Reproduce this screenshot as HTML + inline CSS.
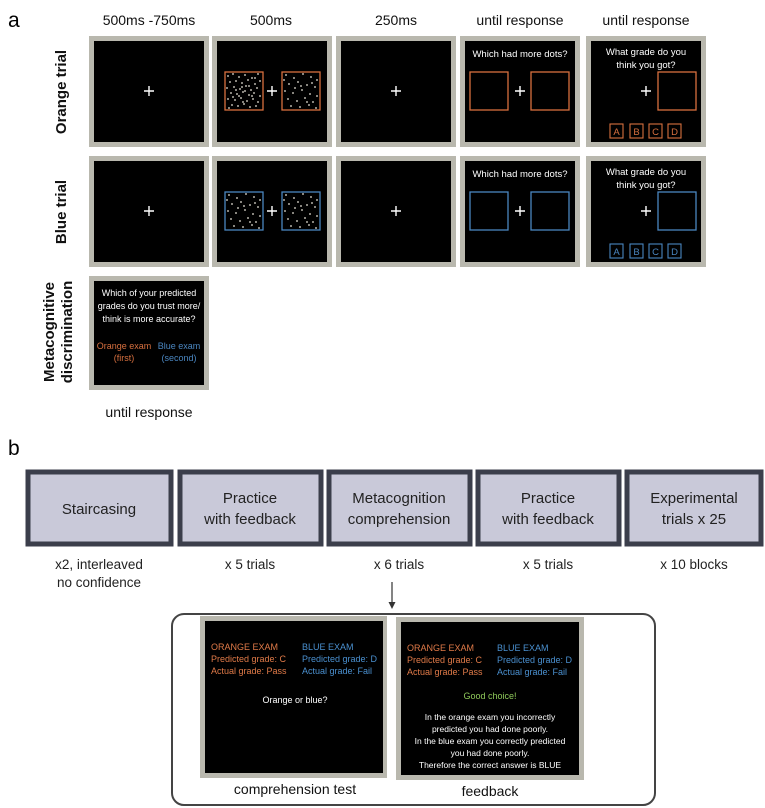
<!DOCTYPE html>
<html><head><meta charset="utf-8"><style>
html,body{margin:0;padding:0;background:#fff;}
svg{display:block;font-family:"Liberation Sans",sans-serif;}
</style></head><body>
<svg width="765" height="808" viewBox="0 0 765 808" xmlns="http://www.w3.org/2000/svg">
<defs>
<g id="dl" fill="#e8e4d8">
<circle cx="3" cy="4" r="0.9"/><circle cx="8" cy="2" r="0.9"/><circle cx="14" cy="5" r="0.9"/><circle cx="20" cy="3" r="0.9"/><circle cx="27" cy="6" r="0.9"/><circle cx="33" cy="2" r="0.9"/><circle cx="5" cy="10" r="0.9"/><circle cx="11" cy="9" r="0.9"/><circle cx="17" cy="11" r="0.9"/><circle cx="23" cy="8" r="0.9"/><circle cx="30" cy="12" r="0.9"/><circle cx="35" cy="9" r="0.9"/><circle cx="2" cy="16" r="0.9"/><circle cx="9" cy="15" r="0.9"/><circle cx="15" cy="17" r="0.9"/><circle cx="21" cy="14" r="0.9"/><circle cx="26" cy="18" r="0.9"/><circle cx="32" cy="16" r="0.9"/><circle cx="6" cy="21" r="0.9"/><circle cx="12" cy="22" r="0.9"/><circle cx="18" cy="20" r="0.9"/><circle cx="24" cy="23" r="0.9"/><circle cx="29" cy="21" r="0.9"/><circle cx="35" cy="24" r="0.9"/><circle cx="3" cy="27" r="0.9"/><circle cx="10" cy="28" r="0.9"/><circle cx="16" cy="26" r="0.9"/><circle cx="22" cy="29" r="0.9"/><circle cx="28" cy="27" r="0.9"/><circle cx="33" cy="30" r="0.9"/><circle cx="7" cy="33" r="0.9"/><circle cx="13" cy="34" r="0.9"/><circle cx="19" cy="32" r="0.9"/><circle cx="25" cy="35" r="0.9"/><circle cx="31" cy="34" r="0.9"/><circle cx="4" cy="36" r="0.9"/><circle cx="17" cy="15" r="0.9"/><circle cx="20" cy="19" r="0.9"/><circle cx="14" cy="24" r="0.9"/><circle cx="24" cy="14" r="0.9"/><circle cx="11" cy="18" r="0.9"/><circle cx="27" cy="24" r="0.9"/><circle cx="18" cy="30" r="0.9"/><circle cx="8" cy="25" r="0.9"/><circle cx="30" cy="6" r="0.9"/>
</g>
<g id="dr" fill="#e8e4d8">
<circle cx="4" cy="3" r="0.9"/><circle cx="12" cy="6" r="0.9"/><circle cx="21" cy="2" r="0.9"/><circle cx="29" cy="5" r="0.9"/><circle cx="35" cy="8" r="0.9"/><circle cx="7" cy="12" r="0.9"/><circle cx="16" cy="10" r="0.9"/><circle cx="25" cy="13" r="0.9"/><circle cx="33" cy="15" r="0.9"/><circle cx="3" cy="19" r="0.9"/><circle cx="11" cy="21" r="0.9"/><circle cx="20" cy="18" r="0.9"/><circle cx="28" cy="22" r="0.9"/><circle cx="35" cy="24" r="0.9"/><circle cx="6" cy="27" r="0.9"/><circle cx="15" cy="29" r="0.9"/><circle cx="23" cy="26" r="0.9"/><circle cx="31" cy="30" r="0.9"/><circle cx="9" cy="34" r="0.9"/><circle cx="18" cy="35" r="0.9"/><circle cx="27" cy="33" r="0.9"/><circle cx="34" cy="36" r="0.9"/><circle cx="2" cy="8" r="0.9"/><circle cx="19" cy="14" r="0.9"/><circle cx="25" cy="30" r="0.9"/><circle cx="13" cy="16" r="0.9"/><circle cx="30" cy="11" r="0.9"/>
</g>
<g id="plus"><path d="M-5 0H5M0 -5V5" stroke="#fff" stroke-width="1.4"/></g>
</defs>

<text x="8" y="27" font-size="21">a</text>
<g font-size="14" text-anchor="middle" fill="#111">
<text x="149" y="25">500ms -750ms</text>
<text x="271" y="25">500ms</text>
<text x="396" y="25">250ms</text>
<text x="520" y="25">until response</text>
<text x="646" y="25">until response</text>
</g>

<g font-size="15" font-weight="bold" text-anchor="middle" fill="#111">
<text transform="translate(66,92) rotate(-90)">Orange trial</text>
<text transform="translate(66,212) rotate(-90)">Blue trial</text>
<text transform="translate(54,332) rotate(-90)">Metacognitive</text>
<text transform="translate(72,332) rotate(-90)">discrimination</text>
</g>

<g fill="#b9b8ae">
<rect x="89" y="36" width="120" height="111"/><rect x="212" y="36" width="120" height="111"/><rect x="336" y="36" width="120" height="111"/><rect x="460" y="36" width="120" height="111"/><rect x="586" y="36" width="120" height="111"/>
<rect x="89" y="156" width="120" height="111"/><rect x="212" y="156" width="120" height="111"/><rect x="336" y="156" width="120" height="111"/><rect x="460" y="156" width="120" height="111"/><rect x="586" y="156" width="120" height="111"/>
<rect x="89" y="276" width="120" height="114"/>
</g>
<g fill="#000">
<rect x="94" y="41" width="110" height="101"/><rect x="217" y="41" width="110" height="101"/><rect x="341" y="41" width="110" height="101"/><rect x="465" y="41" width="110" height="101"/><rect x="591" y="41" width="110" height="101"/>
<rect x="94" y="161" width="110" height="101"/><rect x="217" y="161" width="110" height="101"/><rect x="341" y="161" width="110" height="101"/><rect x="465" y="161" width="110" height="101"/><rect x="591" y="161" width="110" height="101"/>
<rect x="94" y="281" width="110" height="104"/>
</g>

<use href="#plus" x="149" y="91"/>
<rect x="225" y="72" width="38" height="38" fill="none" stroke="#d8703f" stroke-width="1.3"/>
<rect x="282" y="72" width="38" height="38" fill="none" stroke="#d8703f" stroke-width="1.3"/>
<use href="#dl" x="225" y="72"/><use href="#dr" x="282" y="72"/>
<use href="#plus" x="272" y="91"/>
<use href="#plus" x="396" y="91"/>
<text x="520" y="57" font-size="9.5" fill="#fff" text-anchor="middle">Which had more dots?</text>
<rect x="470" y="72" width="38" height="38" fill="none" stroke="#d8703f" stroke-width="1.3"/>
<rect x="531" y="72" width="38" height="38" fill="none" stroke="#d8703f" stroke-width="1.3"/>
<use href="#plus" x="520" y="91"/>
<text x="646" y="55" font-size="9.5" fill="#fff" text-anchor="middle">What grade do you</text>
<text x="646" y="68" font-size="9.5" fill="#fff" text-anchor="middle">think you got?</text>
<rect x="658" y="72" width="38" height="38" fill="none" stroke="#d8703f" stroke-width="1.3"/>
<use href="#plus" x="646" y="91"/>
<g fill="none" stroke="#d8703f" stroke-width="1.1"><rect x="610" y="124" width="13" height="14"/><rect x="630" y="124" width="13" height="14"/><rect x="649" y="124" width="13" height="14"/><rect x="668" y="124" width="13" height="14"/></g>
<g fill="#d8703f" font-size="9.5" text-anchor="middle"><text x="616.5" y="135">A</text><text x="636.5" y="135">B</text><text x="655.5" y="135">C</text><text x="674.5" y="135">D</text></g>

<use href="#plus" x="149" y="211"/>
<rect x="225" y="192" width="38" height="38" fill="none" stroke="#4a86c0" stroke-width="1.3"/>
<rect x="282" y="192" width="38" height="38" fill="none" stroke="#4a86c0" stroke-width="1.3"/>
<use href="#dr" x="225" y="192"/><use href="#dr" x="282" y="192"/>
<use href="#plus" x="272" y="211"/>
<use href="#plus" x="396" y="211"/>
<text x="520" y="177" font-size="9.5" fill="#fff" text-anchor="middle">Which had more dots?</text>
<rect x="470" y="192" width="38" height="38" fill="none" stroke="#4a86c0" stroke-width="1.3"/>
<rect x="531" y="192" width="38" height="38" fill="none" stroke="#4a86c0" stroke-width="1.3"/>
<use href="#plus" x="520" y="211"/>
<text x="646" y="175" font-size="9.5" fill="#fff" text-anchor="middle">What grade do you</text>
<text x="646" y="188" font-size="9.5" fill="#fff" text-anchor="middle">think you got?</text>
<rect x="658" y="192" width="38" height="38" fill="none" stroke="#4a86c0" stroke-width="1.3"/>
<use href="#plus" x="646" y="211"/>
<g fill="none" stroke="#4a86c0" stroke-width="1.1"><rect x="610" y="244" width="13" height="14"/><rect x="630" y="244" width="13" height="14"/><rect x="649" y="244" width="13" height="14"/><rect x="668" y="244" width="13" height="14"/></g>
<g fill="#4a86c0" font-size="9.5" text-anchor="middle"><text x="616.5" y="255">A</text><text x="636.5" y="255">B</text><text x="655.5" y="255">C</text><text x="674.5" y="255">D</text></g>

<g font-size="9" fill="#fff" text-anchor="middle">
<text x="149" y="296">Which of your predicted</text>
<text x="149" y="309">grades do you trust more/</text>
<text x="149" y="322">think is more accurate?</text>
</g>
<g font-size="9" fill="#d8703f" text-anchor="middle"><text x="124" y="349">Orange exam</text><text x="124" y="361">(first)</text></g>
<g font-size="9" fill="#4a86c0" text-anchor="middle"><text x="179" y="349">Blue exam</text><text x="179" y="361">(second)</text></g>
<text x="149" y="417" font-size="14" text-anchor="middle" fill="#111">until response</text>

<text x="8" y="455" font-size="21">b</text>
<g fill="#c9c9d9" stroke="#3b3e4b" stroke-width="5">
<rect x="28" y="472" width="143" height="72"/>
<rect x="180" y="472" width="141" height="72"/>
<rect x="329" y="472" width="141" height="72"/>
<rect x="478" y="472" width="141" height="72"/>
<rect x="627" y="472" width="134" height="72"/>
</g>
<g font-size="15" text-anchor="middle" fill="#222">
<text x="99" y="514">Staircasing</text>
<text x="250" y="503">Practice</text><text x="250" y="524">with feedback</text>
<text x="399" y="503">Metacognition</text><text x="399" y="524">comprehension</text>
<text x="548" y="503">Practice</text><text x="548" y="524">with feedback</text>
<text x="694" y="503">Experimental</text><text x="694" y="524">trials x 25</text>
</g>
<g font-size="13.5" text-anchor="middle" fill="#222">
<text x="99" y="569">x2, interleaved</text><text x="99" y="587">no confidence</text>
<text x="250" y="569">x 5 trials</text>
<text x="399" y="569">x 6 trials</text>
<text x="548" y="569">x 5 trials</text>
<text x="694" y="569">x 10 blocks</text>
</g>
<path d="M392 582V604" stroke="#333" stroke-width="1.2"/>
<path d="M388.5 602L392 609L395.5 602Z" fill="#333"/>
<rect x="172" y="614" width="483" height="191" rx="12" fill="none" stroke="#444" stroke-width="2"/>

<rect x="200" y="616" width="187" height="162" fill="#b9b8ae"/>
<rect x="205" y="621" width="178" height="152" fill="#000"/>
<rect x="396" y="617" width="188" height="163" fill="#b9b8ae"/>
<rect x="401" y="622" width="178" height="153" fill="#000"/>
<g font-size="9">
<g fill="#e07a48"><text x="211" y="650">ORANGE EXAM</text><text x="211" y="662">Predicted grade: C</text><text x="211" y="674">Actual grade: Pass</text>
<text x="407" y="651">ORANGE EXAM</text><text x="407" y="663">Predicted grade: C</text><text x="407" y="675">Actual grade: Pass</text></g>
<g fill="#4a90d0"><text x="302" y="650">BLUE EXAM</text><text x="302" y="662">Predicted grade: D</text><text x="302" y="674">Actual grade: Fail</text>
<text x="497" y="651">BLUE EXAM</text><text x="497" y="663">Predicted grade: D</text><text x="497" y="675">Actual grade: Fail</text></g>
<text x="295" y="703" fill="#fff" text-anchor="middle">Orange or blue?</text>
<text x="490" y="699" fill="#8fc95a" text-anchor="middle">Good choice!</text>
<g fill="#fff" text-anchor="middle" font-size="8.5">
<text x="490" y="720">In the orange exam you incorrectly</text>
<text x="490" y="732">predicted you had done poorly.</text>
<text x="490" y="744">In the blue exam you correctly predicted</text>
<text x="490" y="756">you had done poorly.</text>
<text x="490" y="768">Therefore the correct answer is BLUE</text>
</g>
</g>
<text x="295" y="794" font-size="14" text-anchor="middle" fill="#111">comprehension test</text>
<text x="490" y="796" font-size="14" text-anchor="middle" fill="#111">feedback</text>
</svg>
</body></html>
